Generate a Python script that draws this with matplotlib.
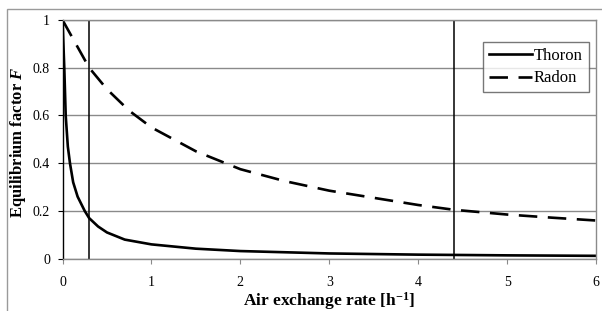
import matplotlib
matplotlib.use("Agg")
import matplotlib.pyplot as plt
from matplotlib.patches import Rectangle

# Data
thoron_x = [0.0, 0.02, 0.036, 0.06, 0.084, 0.12, 0.17, 0.25, 0.3, 0.4, 0.5, 0.7, 1.0, 1.5, 2.0, 3.0, 4.0, 5.0, 6.0]
thoron_f = [1.0, 0.8, 0.6, 0.47, 0.4, 0.32, 0.26, 0.2, 0.17, 0.135, 0.11, 0.08, 0.06, 0.042, 0.032, 0.022, 0.017, 0.014, 0.012]
radon_x = [0.0, 0.3, 0.5, 0.75, 1.0, 1.5, 2.0, 2.5, 3.0, 3.5, 4.0, 4.4, 5.0, 5.5, 6.0]
radon_f = [1.0, 0.8, 0.71, 0.62, 0.55, 0.45, 0.375, 0.325, 0.285, 0.255, 0.225, 0.205, 0.185, 0.172, 0.16]
vlines_x = [0.3, 4.4]
xticks = [0, 1, 2, 3, 4, 5, 6]
yticks = [0, 0.2, 0.4, 0.6, 0.8, 1.0]
yticklabels = ["0", "0.2", "0.4", "0.6", "0.8", "1"]

plt.rcParams['font.family'] = ['Liberation Serif', 'DejaVu Serif']
plt.rcParams['mathtext.fontset'] = 'custom'
plt.rcParams['mathtext.rm'] = 'Liberation Serif:bold'
plt.rcParams['mathtext.it'] = 'Liberation Serif:bold:italic'
plt.rcParams['mathtext.bf'] = 'Liberation Serif:bold'

fig = plt.figure(figsize=(6.02, 3.11), dpi=100)
fig.patches.append(Rectangle((7/602, -0.1), 1.2, 1 - 9/311 + 0.1, transform=fig.transFigure,
                             fill=False, edgecolor='#9a9a9a', linewidth=1.0))
ax = fig.add_axes([62.5/602, 1 - 258.7/311, (596 - 62.5)/602, (258.7 - 20)/311])

ax.plot(thoron_x, thoron_f, color='black', linewidth=1.9, label='Thoron')
ax.plot(radon_x, radon_f, color='black', linewidth=1.9, dashes=(7, 4), label='Radon')
for xv in vlines_x:
    ax.axvline(xv, color='black', linewidth=1.1)

ax.set_xlim(0, 6)
ax.set_ylim(0, 1)
ax.set_xticks(xticks)
ax.set_yticks(yticks)
ax.set_yticklabels(yticklabels)
ax.yaxis.grid(True, color='#8a8a8a', linewidth=1.0)
ax.set_axisbelow(True)
for s in ['top', 'right', 'bottom']:
    ax.spines[s].set_color('#8a8a8a')
    ax.spines[s].set_linewidth(1.0)
ax.spines['left'].set_color('black')
ax.spines['left'].set_linewidth(1.0)
ax.tick_params(axis='x', direction='out', length=3.6, color='#8a8a8a', labelsize=10, pad=9)
ax.tick_params(axis='y', direction='out', length=3.6, color='black', labelsize=10, pad=5.4)

ax.set_xlabel(r"Air exchange rate [h$^{\mathdefault{-1}}$]", fontsize=12.5, fontweight='bold', labelpad=0.5)
fig.text(18/602, 1 - 142/311, r"Equilibrium factor $F$", fontsize=12, fontweight='bold',
         rotation=90, ha='center', va='center')

leg = ax.legend(loc='upper left', bbox_to_anchor=((483 - 62.5)/(596 - 62.5), 1 - (42 - 20)/(258.7 - 20)),
                fontsize=12, frameon=True, fancybox=False, handlelength=2.6, handletextpad=0.1,
                borderpad=0.35, labelspacing=0.4, borderaxespad=0)
leg.get_frame().set_edgecolor('#555555')
leg.get_frame().set_linewidth(1.0)

fig.savefig('out.png', dpi=100)
